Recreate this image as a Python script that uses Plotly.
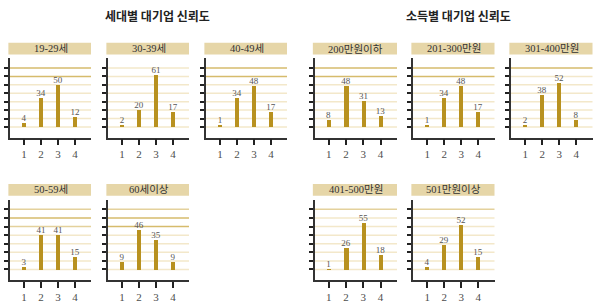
import plotly.graph_objects as go

# ---- data ----
categories = [1, 2, 3, 4]
age_labels = ["19-29세", "30-39세", "40-49세", "50-59세", "60세이상"]
age_19_29 = [4, 34, 50, 12]
age_30_39 = [2, 20, 61, 17]
age_40_49 = [1, 34, 48, 17]
age_50_59 = [3, 41, 41, 15]
age_60p = [9, 46, 35, 9]

income_labels = ["200만원이하", "201-300만원", "301-400만원", "401-500만원", "501만원이상"]
inc_200 = [8, 48, 31, 13]
inc_201_300 = [1, 34, 48, 17]
inc_301_400 = [2, 38, 52, 8]
inc_401_500 = [1, 26, 55, 18]
inc_501p = [4, 29, 52, 15]

grid_values = [0, 10, 20, 30, 40, 50, 60, 70]
title_age = "세대별 대기업 신뢰도"
title_income = "소득별 대기업 신뢰도"

# ---- styles ----
W, H = 600, 305
BAR = "#b8911f"
STRIP = "#e6d6a8"
L, M, D = "#f3e8ca", "#e4d19c", "#d6bb6c"
SERIF = "Liberation Serif, Noto Sans CJK KR, serif"

panels = [
    (age_labels[0], age_19_29, (10, 91), 0, [L]*6 + [D, D]),
    (age_labels[1], age_30_39, (108, 189), 0, [L]*8),
    (age_labels[2], age_40_49, (206, 287), 0, [L]*6 + [D, D]),
    (age_labels[3], age_50_59, (10, 91), 1, [L]*5 + [M, D, M]),
    (age_labels[4], age_60p, (108, 189), 1, [L]*5 + [D, D, M]),
    (income_labels[0], inc_200, (314.5, 397), 0, [L]*6 + [D, D]),
    (income_labels[1], inc_201_300, (413, 494.5), 0, [L]*6 + [D, D]),
    (income_labels[2], inc_301_400, (511, 592.5), 0, [L]*7 + [D]),
    (income_labels[3], inc_401_500, (314.5, 397), 1, [L]*7 + [M]),
    (income_labels[4], inc_501p, (413, 494.5), 1, [L]*7 + [M]),
]

rows = {0: (58.3, 137.5, 42.7, 54.5), 1: (199.5, 280.2, 184.0, 195.8)}

def py(px):
    return 1 - px / H

fig = go.Figure()
layout = {}
shapes = []
annotations = []

for i, (lab, vals, (x0, x1), row, gcols) in enumerate(panels, start=1):
    top, bot, st_top, st_bot = rows[row]
    xa = "xaxis" if i == 1 else f"xaxis{i}"
    ya = "yaxis" if i == 1 else f"yaxis{i}"
    xr = "x" if i == 1 else f"x{i}"
    yr = "y" if i == 1 else f"y{i}"
    fig.add_trace(go.Bar(
        x=categories, y=vals, xaxis=xr, yaxis=yr, width=0.25,
        marker=dict(color=BAR, line=dict(width=0)),
        text=[str(v) for v in vals], textposition="outside",
        constraintext="none", textangle=0,
        textfont=dict(family=SERIF, size=9, color="#555555"),
        cliponaxis=False, showlegend=False, hoverinfo="skip",
    ))
    layout[xa] = dict(
        domain=[x0 / W, x1 / W], anchor=yr, range=[0.17, 4.95],
        tickvals=categories, ticks="outside", ticklen=6, tickwidth=2,
        tickcolor="#222222", showline=True, linecolor="#333333", linewidth=1.5,
        showgrid=False, zeroline=False,
        tickfont=dict(family=SERIF, size=11, color="#4d4d4d"), fixedrange=True,
    )
    layout[ya] = dict(
        domain=[py(bot), py(top)], anchor=xr, range=[-12.5, 81.5],
        tickvals=grid_values, ticks="outside", ticklen=4, tickwidth=2,
        tickcolor="#222222", showticklabels=False, showline=True,
        linecolor="#333333", linewidth=1.5, showgrid=False, zeroline=False,
        fixedrange=True,
    )
    for gv, gc in zip(grid_values, gcols):
        shapes.append(dict(type="line", xref=f"{xr} domain", yref=yr,
                           x0=0, x1=1, y0=gv, y1=gv, layer="below",
                           line=dict(color=gc, width=1.5)))
    shapes.append(dict(type="rect", xref=f"{xr} domain", yref="paper",
                       x0=-0.02, x1=1.0, y0=py(st_bot), y1=py(st_top),
                       fillcolor=STRIP, line=dict(width=0), layer="below"))
    annotations.append(dict(text=lab, xref=f"{xr} domain", yref="paper",
                            x=0.5, y=py((st_top + st_bot) / 2), showarrow=False,
                            xanchor="center", yanchor="middle",
                            font=dict(family=SERIF, size=10.5, color="#333333")))

annotations.append(dict(text=f"<b>{title_age}</b>", xref="paper", yref="paper",
                        x=158 / W, y=py(15), showarrow=False,
                        xanchor="center", yanchor="middle",
                        font=dict(family="Noto Sans CJK KR", size=12, color="#222222")))
annotations.append(dict(text=f"<b>{title_income}</b>", xref="paper", yref="paper",
                        x=458 / W, y=py(15), showarrow=False,
                        xanchor="center", yanchor="middle",
                        font=dict(family="Noto Sans CJK KR", size=12, color="#222222")))

fig.update_layout(
    width=W, height=H, margin=dict(l=0, r=0, t=0, b=0),
    paper_bgcolor="white", plot_bgcolor="rgba(0,0,0,0)",
    shapes=shapes, annotations=annotations, bargap=0, **layout,
)
fig.write_html("out.html")
